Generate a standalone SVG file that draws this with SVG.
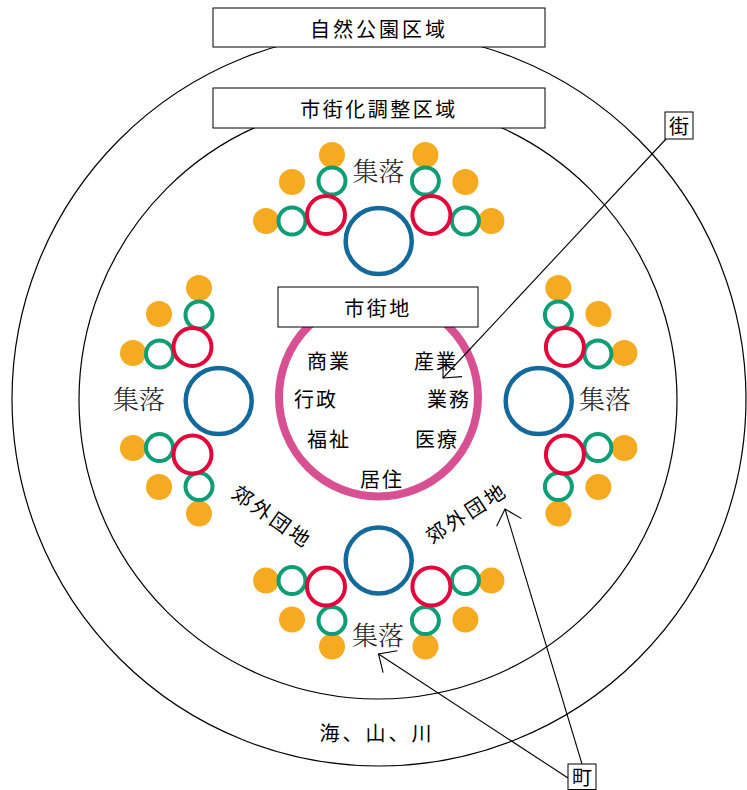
<svg xmlns="http://www.w3.org/2000/svg" width="747" height="790" viewBox="0 0 747 790">
<style>
.zone{fill:none;stroke:#000;stroke-width:1.2}
.box{fill:#fff;stroke:#000;stroke-width:1}
.lbl{font-family:"Noto Sans CJK JP","Noto Sans CJK SC",sans-serif;font-size:20px;font-weight:400;fill:#000;text-anchor:middle;dominant-baseline:central}
.sm{font-family:"Noto Serif CJK JP","Noto Sans CJK JP",serif;font-size:26px;font-weight:300;fill:#222;text-anchor:middle;dominant-baseline:central}
.b{fill:none;stroke:#12699A;stroke-width:4.5}
.r{fill:none;stroke:#E2063B;stroke-width:4}
.g{fill:none;stroke:#0E9D75;stroke-width:4}
.o{fill:#F5AA1F}
.ln{fill:none;stroke:#000;stroke-width:1.1}
</style>
<defs>
<marker id="arr" markerUnits="userSpaceOnUse" markerWidth="40" markerHeight="40" viewBox="-20 -20 40 40" refX="0" refY="0" orient="auto" overflow="visible">
<path d="M-14,-13 L0,0 L-14,13" fill="none" stroke="#000" stroke-width="1.1"/>
</marker>
</defs>
<rect width="747" height="790" fill="#fff"/>
<g id="zones">
<circle class="zone" cx="379" cy="399" r="367"/>
<circle class="zone" cx="378" cy="400" r="299"/>
</g>
<g id="natural-park">
<rect class="box" x="213" y="8" width="332" height="39"/>
<text class="lbl" x="379" y="28" letter-spacing="3">自然公園区域</text>
</g>
<g id="urbanization-control">
<rect class="box" x="213" y="88" width="332" height="40"/>
<text class="lbl" x="379" y="108" letter-spacing="2.5">市街化調整区域</text>
</g>
<g id="settlement-top">
<circle class="o" cx="332" cy="155" r="13"/><circle class="o" cx="292" cy="182" r="13"/><circle class="o" cx="266" cy="221" r="13"/>
<circle class="o" cx="425.4" cy="155" r="13"/><circle class="o" cx="465.4" cy="182" r="13"/><circle class="o" cx="491.4" cy="221" r="13"/>
<circle class="g" cx="332" cy="181" r="13.5"/><circle class="g" cx="292" cy="221" r="13.5"/>
<circle class="g" cx="425.4" cy="181" r="13.5"/><circle class="g" cx="465.4" cy="221" r="13.5"/>
<circle class="r" cx="326" cy="215" r="19"/><circle class="r" cx="431.4" cy="215" r="19"/>
<circle class="b" cx="378.7" cy="241" r="33"/>
<text class="sm" x="378.5" y="169">集落</text>
</g>
<g id="settlement-bottom">
<circle class="o" cx="332" cy="646.6" r="13"/><circle class="o" cx="292" cy="619.6" r="13"/><circle class="o" cx="266" cy="580.6" r="13"/>
<circle class="o" cx="425.4" cy="646.6" r="13"/><circle class="o" cx="465.4" cy="619.6" r="13"/><circle class="o" cx="491.4" cy="580.6" r="13"/>
<circle class="g" cx="332" cy="620.6" r="13.5"/><circle class="g" cx="292" cy="580.6" r="13.5"/>
<circle class="g" cx="425.4" cy="620.6" r="13.5"/><circle class="g" cx="465.4" cy="580.6" r="13.5"/>
<circle class="r" cx="326" cy="586.6" r="19"/><circle class="r" cx="431.4" cy="586.6" r="19"/>
<circle class="b" cx="378.7" cy="560.6" r="33"/>
<text class="sm" x="378" y="633">集落</text>
</g>
<g id="settlement-left">
<circle class="o" cx="199" cy="288" r="13"/><circle class="o" cx="159" cy="314" r="13"/><circle class="o" cx="133" cy="353" r="13"/>
<circle class="o" cx="199" cy="513.6" r="13"/><circle class="o" cx="159" cy="487" r="13"/><circle class="o" cx="133" cy="448" r="13"/>
<circle class="g" cx="199" cy="315" r="13.5"/><circle class="g" cx="159.5" cy="354" r="13.5"/>
<circle class="g" cx="199" cy="486.6" r="13.5"/><circle class="g" cx="159.5" cy="447.6" r="13.5"/>
<circle class="r" cx="192.5" cy="347" r="19"/><circle class="r" cx="192.5" cy="454.6" r="19"/>
<circle class="b" cx="218.7" cy="401" r="33"/>
<text class="sm" x="139" y="397">集落</text>
</g>
<g id="settlement-right">
<circle class="o" cx="558.4" cy="288" r="13"/><circle class="o" cx="598.4" cy="314" r="13"/><circle class="o" cx="624.4" cy="353" r="13"/>
<circle class="o" cx="558.4" cy="513.6" r="13"/><circle class="o" cx="598.4" cy="487" r="13"/><circle class="o" cx="624.4" cy="448" r="13"/>
<circle class="g" cx="558.4" cy="315" r="13.5"/><circle class="g" cx="597.9" cy="354" r="13.5"/>
<circle class="g" cx="558.4" cy="486.6" r="13.5"/><circle class="g" cx="597.9" cy="447.6" r="13.5"/>
<circle class="r" cx="564.9" cy="347" r="19"/><circle class="r" cx="564.9" cy="454.6" r="19"/>
<circle class="b" cx="538.7" cy="401" r="33"/>
<text class="sm" x="605" y="397">集落</text>
</g>
<g id="city-area">
<circle cx="378.5" cy="397" r="99.5" fill="none" stroke="#D84F92" stroke-width="8"/>
<rect class="box" x="278" y="287" width="200" height="40"/>
<text class="lbl" x="378" y="307" letter-spacing="2.5">市街地</text>
<text class="lbl" x="329" y="360" letter-spacing="2">商業</text>
<text class="lbl" x="436" y="360" letter-spacing="2">産業</text>
<text class="lbl" x="316" y="398" letter-spacing="2">行政</text>
<text class="lbl" x="449" y="398" letter-spacing="2">業務</text>
<text class="lbl" x="329" y="438" letter-spacing="2">福祉</text>
<text class="lbl" x="437" y="438" letter-spacing="2">医療</text>
<text class="lbl" x="382" y="478" letter-spacing="2">居住</text>
</g>
<g id="suburb-left">
<text class="lbl" transform="translate(273,516) rotate(35)" letter-spacing="3">郊外団地</text>
</g>
<g id="suburb-right">
<text class="lbl" transform="translate(466,512) rotate(-33)" letter-spacing="3">郊外団地</text>
</g>
<g id="sea-mountain-river">
<text class="lbl" x="377" y="732" letter-spacing="3">海、山、川</text>
</g>
<g id="connectors">
<line class="ln" x1="666" y1="139" x2="443" y2="378" marker-end="url(#arr)"/>
<line class="ln" x1="568" y1="778" x2="378.5" y2="654" marker-end="url(#arr)"/>
<line class="ln" x1="582" y1="764" x2="505" y2="509" marker-end="url(#arr)"/>
</g>
<g id="street">
<rect class="box" x="665" y="112" width="28" height="27"/>
<text class="lbl" x="679" y="125.5">街</text>
</g>
<g id="town">
<rect class="box" x="568" y="764" width="28" height="25.5"/>
<text class="lbl" x="582" y="776.5" font-size="19">町</text>
</g>
</svg>
